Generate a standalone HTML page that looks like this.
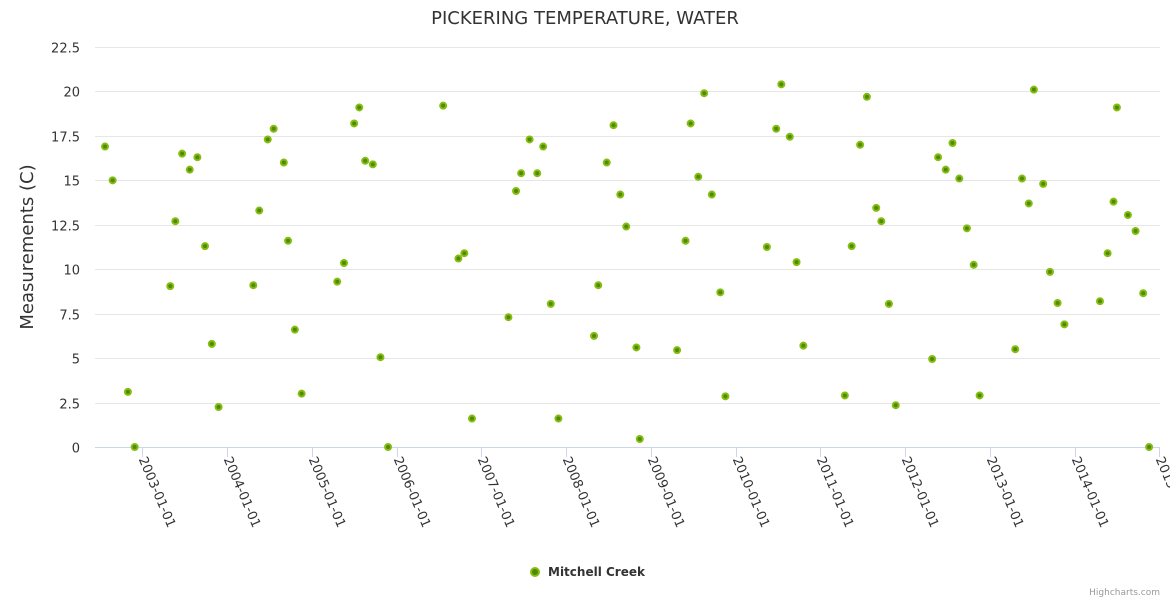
<!DOCTYPE html>
<html><head><meta charset="utf-8"><style>
body{margin:0;background:#fff;font-family:"DejaVu Sans",sans-serif;}
</style></head><body>
<svg id="chart" width="1170" height="600" style="font-family:'DejaVu Sans','Liberation Sans',sans-serif">
<text x="585" y="24" text-anchor="middle" font-size="18" fill="#333">PICKERING TEMPERATURE, WATER</text>
<text transform="translate(33,247) rotate(-90)" text-anchor="middle" font-size="18" fill="#333">Measurements (C)</text>
<g id="grid"></g><g id="xax"></g><g id="pts"></g>
<g>
<circle cx="535" cy="572" r="4" fill="#4f8a00" stroke="#86bd12" stroke-width="2"/>
<text x="548" y="576" font-size="12" font-weight="bold" fill="#333">Mitchell Creek</text>
</g>
<text x="1160" y="595" text-anchor="end" font-size="9" fill="#999">Highcharts.com</text>
</svg>
<script>
const years=[2002.56,2002.65,2002.83,2002.91,2003.33,2003.39,2003.47,2003.56,2003.65,2003.74,2003.82,2003.90,2004.31,2004.38,2004.48,2004.55,2004.67,2004.72,2004.80,2004.88,2005.30,2005.38,2005.50,2005.56,2005.63,2005.72,2005.81,2005.90,2006.55,2006.73,2006.80,2006.89,2007.32,2007.41,2007.47,2007.57,2007.66,2007.73,2007.82,2007.91,2008.33,2008.38,2008.48,2008.56,2008.64,2008.71,2008.83,2008.87,2009.31,2009.41,2009.47,2009.56,2009.63,2009.72,2009.82,2009.88,2010.37,2010.48,2010.54,2010.64,2010.72,2010.80,2011.29,2011.37,2011.47,2011.55,2011.66,2011.72,2011.81,2011.89,2012.32,2012.39,2012.48,2012.56,2012.64,2012.73,2012.81,2012.88,2013.30,2013.38,2013.46,2013.52,2013.63,2013.71,2013.80,2013.88,2014.30,2014.39,2014.46,2014.50,2014.63,2014.72,2014.81,2014.88];
const temps=[16.9,15.0,3.1,0,9.05,12.7,16.5,15.6,16.3,11.3,5.8,2.25,9.1,13.3,17.3,17.9,16.0,11.6,6.6,3.0,9.3,10.35,18.2,19.1,16.1,15.9,5.05,0,19.2,10.6,10.9,1.6,7.3,14.4,15.4,17.3,15.4,16.9,8.05,1.6,6.25,9.1,16.0,18.1,14.2,12.4,5.6,0.45,5.45,11.6,18.2,15.2,19.9,14.2,8.7,2.85,11.25,17.9,20.4,17.45,10.4,5.7,2.9,11.3,17.0,19.7,13.45,12.7,8.05,2.35,4.95,16.3,15.6,17.1,15.1,12.3,10.25,2.9,5.5,15.1,13.7,20.1,14.8,9.85,8.1,6.9,8.2,10.9,13.8,19.1,13.05,12.15,8.65,0];
const yTicks=[0,2.5,5,7.5,10,12.5,15,17.5,20,22.5];
const yTickLabels=["0","2.5","5","7.5","10","12.5","15","17.5","20","22.5"];
const xTicks=[2003,2004,2005,2006,2007,2008,2009,2010,2011,2012,2013,2014,2015];
const xTickLabels=["2003-01-01","2004-01-01","2005-01-01","2006-01-01","2007-01-01","2008-01-01","2009-01-01","2010-01-01","2011-01-01","2012-01-01","2013-01-01","2014-01-01","2015-01-01"];
const NS="http://www.w3.org/2000/svg";
const L=95,R=1160,B=447,T=47;
const xs=v=>142.3+(v-2003)*84.75;
const ys=v=>B-(v/22.5)*(B-T);
function mk(t,a,p){const e=document.createElementNS(NS,t);for(const k in a)e.setAttribute(k,a[k]);p.appendChild(e);return e;}
const grid=document.getElementById('grid');
yTicks.forEach((v,i)=>{
  const y=Math.round(ys(v))+0.5;
  const l=mk('line',{x1:L,x2:R,y1:y,y2:y,stroke:i==0?'#ccd6eb':'#e6e6e6','stroke-width':1},grid);
  
  
  const t=mk('text',{x:80,y:y+5,'text-anchor':'end','font-size':13,fill:'#333'},grid);
  t.textContent=yTickLabels[i];
  
  
});
const xax=document.getElementById('xax');
xTicks.forEach((v,i)=>{
  const x=Math.round(xs(v))+0.5;
  const l=mk('line',{x1:x,x2:x,y1:B,y2:B+10,stroke:'#ccd6eb'},xax);
  
  
  const t=mk('text',{transform:`translate(${x-4},${B+12}) rotate(67)`,'font-size':13,fill:'#333'},xax);
  t.textContent=xTickLabels[i];
  
  
});
const pts=document.getElementById('pts');
years.forEach((v,i)=>{
  const c=mk('circle',{cx:xs(v),cy:ys(temps[i]),r:3,fill:'#4f8a00',stroke:'#86bd12','stroke-width':2},pts);
  
  
});
</script>
</body></html>
